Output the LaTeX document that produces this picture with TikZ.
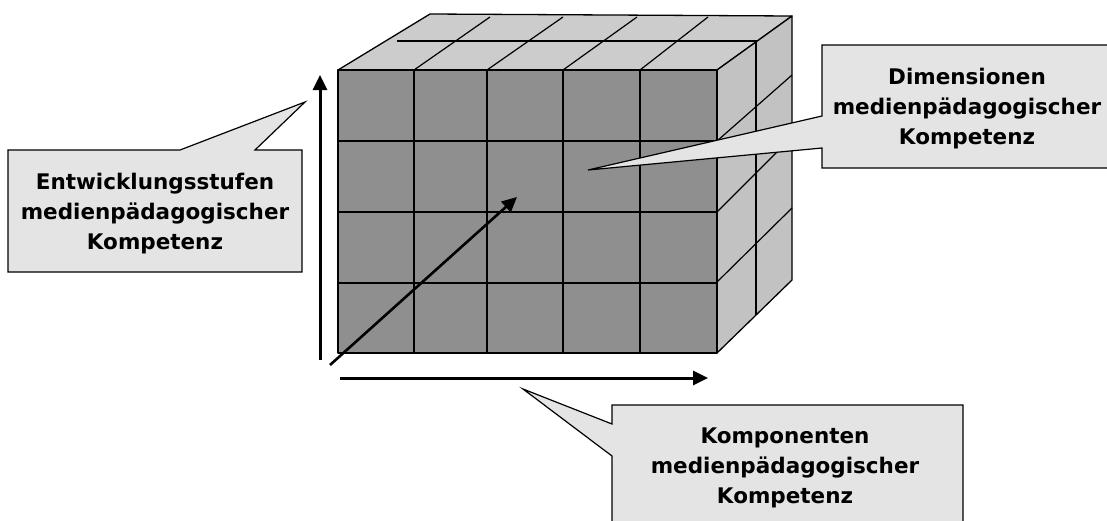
\documentclass[tikz,border=0pt]{standalone}
\usepackage{fontspec}
\setmainfont{DejaVu Sans}
\usetikzlibrary{arrows.meta}
\definecolor{frontgray}{RGB}{143,143,143}
\definecolor{topgray}{RGB}{204,204,204}
\definecolor{sidegray}{RGB}{194,194,194}
\definecolor{callgray}{RGB}{228,228,228}
\tikzset{
  face/.style={draw=black,line width=1.3pt,line join=round},
  gridline/.style={draw=black,line width=1.2pt},
  callout/.style={draw=black,fill=callgray,line width=1.2pt,line join=miter},
  lbl/.style={align=center,inner sep=0pt,font=\fontsize{21.5}{30}\selectfont\bfseries},
  axis/.style={draw=black,line width=3pt,-{Triangle[length=15pt,width=14pt]}}
}
\begin{document}
\begin{tikzpicture}[x=1pt,y=-1pt]
\clip (0,0) rectangle (1107,520);
\fill[white] (0,0) rectangle (1107,520);
% cube faces
\path[face,fill=topgray] (338,70) -- (430,14) -- (792,16) -- (717,70) -- cycle;
\path[face,fill=sidegray] (717,70) -- (792,16) -- (792,280) -- (717,353) -- cycle;
\path[face,fill=frontgray] (338,70) rectangle (717,353);
% front grid
\foreach \x in {414,487,563,640} \draw[gridline] (\x,70) -- (\x,353);
\foreach \y in {141,212,283} \draw[gridline] (338,\y) -- (717,\y);
% top grid
\draw[gridline] (414,70) -- (490,17);
\draw[gridline] (487,70) -- (563,17);
\draw[gridline] (563,70) -- (637,17);
\draw[gridline] (640,70) -- (708,17);
\draw[gridline] (397,41) -- (757,41);
% right grid
\draw[gridline] (756,41) -- (756,315);
\draw[gridline] (717,141) -- (792,75);
\draw[gridline] (717,212) -- (792,137);
\draw[gridline] (717,282) -- (792,208);
% axes
\coordinate (vs) at (320,360);
\coordinate (ve) at (320,75);
\coordinate (hs) at (340,378);
\coordinate (he) at (708,378);
\coordinate (ds) at (330,365);
\coordinate (de) at (517,197);
\draw[axis] (vs) -- (ve);
\draw[axis] (hs) -- (he);
\draw[axis,line width=2.6pt] (ds) -- (de);
% callouts
\path[callout] (8,150) -- (180,150) -- (305,102) -- (255,150) -- (302,150) -- (302,272) -- (8,272) -- cycle;
\path[callout] (822,45) -- (1112,45) -- (1112,168) -- (822,168) -- (822,148) -- (588,170) -- (822,116) -- cycle;
\path[callout] (612,405) -- (963,405) -- (963,530) -- (612,530) -- (612,456) -- (523,389) -- (612,424) -- cycle;
% labels
\node[lbl] (entw) at (155,214) {Entwicklungsstufen\\medienpädagogischer\\Kompetenz};
\node[lbl] (dim) at (967,109) {Dimensionen\\medienpädagogischer\\Kompetenz};
\node[lbl] (komp) at (785,468) {Komponenten\\medienpädagogischer\\Kompetenz};
\end{tikzpicture}
\end{document}
